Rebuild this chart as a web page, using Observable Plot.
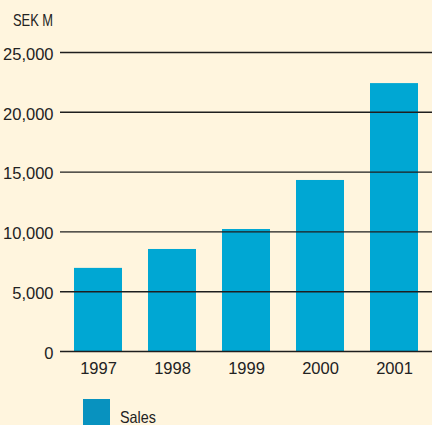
<!DOCTYPE html>
<html>
<head>
<meta charset="utf-8">
<script src="https://cdn.jsdelivr.net/npm/d3@7"></script>
<script src="https://cdn.jsdelivr.net/npm/@observablehq/plot@0.6"></script>
<style>
  html, body { margin: 0; padding: 0; background: #fff5de; }
  body { width: 432px; height: 425px; overflow: hidden; position: relative;
         font-family: "Liberation Sans", Arial, sans-serif; color: #222; }
  #unit { position: absolute; left: 13px; top: 11px; font-size: 16.5px; transform: scaleX(0.78); transform-origin: left top; white-space: nowrap; }
  #chart { position: absolute; left: 0; top: 0; }
  #legend { position: absolute; left: 83px; top: 399px; display: flex; align-items: flex-start; }
  #legend .sw { width: 27px; height: 27px; background: #0892bf; }
  #legend .lb { margin-left: 10px; margin-top: 9px; font-size: 16.5px; transform: scaleX(0.87); transform-origin: left top; }
</style>
</head>
<body>
<div id="chart"></div>
<div id="unit">SEK M</div>
<div id="legend"><div class="sw"></div><div class="lb">Sales</div></div>
<script>
const years = ["1997", "1998", "1999", "2000", "2001"];
const sales = [6950, 8530, 10200, 14300, 22400];
const yTicks = [0, 5000, 10000, 15000, 20000, 25000];

const data = years.map((y, i) => ({year: y, sales: sales[i]}));

const chart = Plot.plot({
  width: 432,
  height: 385,
  marginTop: 52,
  marginBottom: 34,
  marginLeft: 60,
  marginRight: 0,
  style: {background: "transparent", fontFamily: "'Liberation Sans', Arial, sans-serif", fontSize: "16.5px", color: "#222"},
  x: {domain: years, paddingInner: 0.358, paddingOuter: 0.179, label: null},
  y: {domain: [0, 25000], label: null},
  marks: [
    Plot.barY(data, {x: "year", y: "sales", fill: "#00a7d3"}),
    Plot.ruleY(yTicks, {stroke: "#1e1e1e", strokeWidth: 1.4}),
    Plot.axisY({ticks: yTicks, tickSize: 0, tickPadding: 7, dy: 2, tickFormat: d3.format(","), fontSize: "16.5px", ariaLabel: "y-axis tick label"}),
    Plot.axisX({tickSize: 0, tickPadding: 10.5, fontSize: "16.5px", ariaLabel: "x-axis tick label"})
  ]
});

// condense axis text horizontally (the reference uses a condensed face)
function condense(selector, s) {
  chart.querySelectorAll(selector).forEach(t => {
    const tr = t.getAttribute("transform");
    if (tr) {
      t.setAttribute("transform", tr + ` scale(${s},1)`);
    } else {
      const x = +(t.getAttribute("x") || 0), y = +(t.getAttribute("y") || 0);
      t.removeAttribute("x"); t.removeAttribute("y");
      t.setAttribute("transform", `translate(${x},${y}) scale(${s},1)`);
    }
  });
}
condense('g[aria-label="y-axis tick label"] text', 0.85);
condense('g[aria-label="x-axis tick label"] text', 0.95);

document.getElementById("chart").appendChild(chart);
</script>
</body>
</html>
